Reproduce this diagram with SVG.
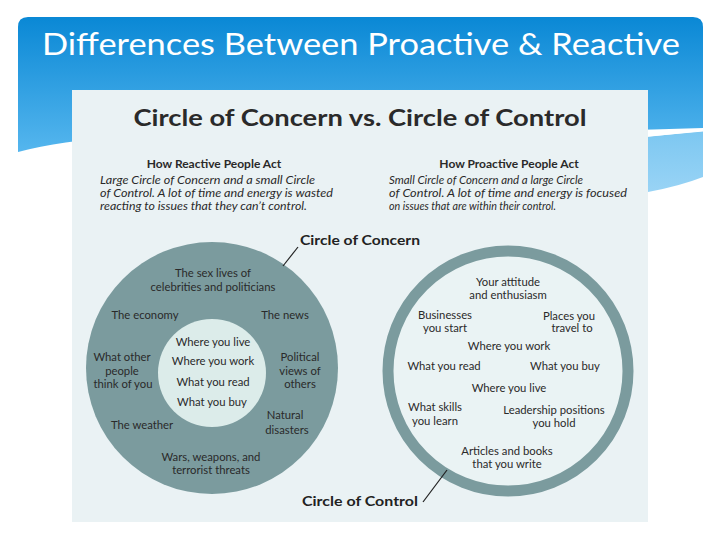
<svg xmlns="http://www.w3.org/2000/svg" width="720" height="540" viewBox="0 0 720 540">
<defs>
<linearGradient id="hdr" x1="0" y1="0" x2="0" y2="1">
<stop offset="0" stop-color="#0a88d5"/>
<stop offset="1" stop-color="#55b6ee"/>
</linearGradient>
<linearGradient id="band" x1="0" y1="0" x2="0" y2="1">
<stop offset="0" stop-color="#7cc7f1"/>
<stop offset="1" stop-color="#9fd6f6"/>
</linearGradient>
</defs>
<style>
.t{font-family:Lato,"Noto Sans","Liberation Sans",sans-serif;fill:#2a2a2a;font-size:11.3px;text-anchor:middle}
.h{font-family:Lato,"Noto Sans","Liberation Sans",sans-serif;fill:#2a2a2a;font-size:12px;font-weight:bold;text-anchor:middle}
.i{font-family:Lato,"Noto Sans","Liberation Sans",sans-serif;fill:#2a2a2a;font-size:11.5px;font-style:italic}
.lbl{font-family:Lato,"Noto Sans","Liberation Sans",sans-serif;fill:#222;font-size:14px;font-weight:bold}
.ring{fill:#7b9b9e}
.lead{stroke:#222;stroke-width:1.2;fill:none}
</style>
<rect width="720" height="540" fill="#ffffff"/>
<g id="header">
<path d="M18,152 C150,118 400,138 703,128 L703,27 Q703,17 693,17 L28,17 Q18,17 18,27 Z" fill="url(#hdr)"/>
<path d="M560,146 L703,131 L703,177 Q680,186 648,192 L560,205 Z" fill="url(#band)"/>
<path d="M560,144 L703,131" stroke="#ffffff" stroke-width="1.2" fill="none"/>
<text x="361" y="55" font-family="Lato,'Open Sans','Liberation Sans',sans-serif" font-size="30" fill="#ffffff" text-anchor="middle" textLength="638" lengthAdjust="spacingAndGlyphs">Differences Between Proactive &amp; Reactive</text>
</g>
<rect id="panel" x="72" y="90" width="576" height="432" fill="#eaf2f4"/>
<text x="360" y="126" font-family="Lato,'Noto Sans','Liberation Sans',sans-serif" font-size="23" font-weight="bold" fill="#2a2a2a" text-anchor="middle" textLength="453" lengthAdjust="spacingAndGlyphs">Circle of Concern vs. Circle of Control</text>
<g id="reactive-text">
<text class="h" x="214" y="168">How Reactive People Act</text>
<text class="i" x="100" y="184" textLength="215" lengthAdjust="spacingAndGlyphs">Large Circle of Concern and a small Circle</text>
<text class="i" x="100" y="197" textLength="233" lengthAdjust="spacingAndGlyphs">of Control. A lot of time and energy is wasted</text>
<text class="i" x="100" y="210" textLength="207" lengthAdjust="spacingAndGlyphs">reacting to issues that they can’t control.</text>
</g>
<g id="proactive-text">
<text class="h" x="509" y="168">How Proactive People Act</text>
<text class="i" x="389" y="184" textLength="194" lengthAdjust="spacingAndGlyphs">Small Circle of Concern and a large Circle</text>
<text class="i" x="389" y="197" textLength="238" lengthAdjust="spacingAndGlyphs">of Control. A lot of time and energy is focused</text>
<text class="i" x="389" y="210" textLength="167" lengthAdjust="spacingAndGlyphs">on issues that are within their control.</text>
</g>
<g id="reactive-circle">
<circle class="ring" cx="212" cy="368" r="126"/>
<circle cx="212" cy="373" r="54" fill="#dcecea"/>
<text class="t" x="213" y="277">The sex lives of</text>
<text class="t" x="213" y="291">celebrities and politicians</text>
<text class="t" x="145" y="319">The economy</text>
<text class="t" x="285" y="319">The news</text>
<text class="t" x="213" y="346">Where you live</text>
<text class="t" x="213" y="365">Where you work</text>
<text class="t" x="213" y="386">What you read</text>
<text class="t" x="212" y="406">What you buy</text>
<text class="t" x="122" y="361">What other</text>
<text class="t" x="122" y="375">people</text>
<text class="t" x="123" y="388">think of you</text>
<text class="t" x="300" y="361">Political</text>
<text class="t" x="300" y="375">views of</text>
<text class="t" x="300" y="388">others</text>
<text class="t" x="142" y="429">The weather</text>
<text class="t" x="285" y="419">Natural</text>
<text class="t" x="287" y="434">disasters</text>
<text class="t" x="211" y="461">Wars, weapons, and</text>
<text class="t" x="211" y="474">terrorist threats</text>
</g>
<g id="proactive-circle">
<circle cx="508" cy="371" r="120" fill="#eaf3f4" stroke="#7b9b9e" stroke-width="11"/>
<text class="t" x="508" y="286">Your attitude</text>
<text class="t" x="508" y="299">and enthusiasm</text>
<text class="t" x="445" y="319">Businesses</text>
<text class="t" x="445" y="332">you start</text>
<text class="t" x="569" y="320">Places you</text>
<text class="t" x="572" y="332">travel to</text>
<text class="t" x="509" y="350">Where you work</text>
<text class="t" x="444" y="370">What you read</text>
<text class="t" x="565" y="370">What you buy</text>
<text class="t" x="509" y="392">Where you live</text>
<text class="t" x="435" y="411">What skills</text>
<text class="t" x="435" y="425">you learn</text>
<text class="t" x="554" y="414">Leadership positions</text>
<text class="t" x="554" y="427">you hold</text>
<text class="t" x="507" y="455">Articles and books</text>
<text class="t" x="507" y="468">that you write</text>
</g>
<g id="connectors">
<path class="lead" d="M298,247 L283,266"/>
<path class="lead" d="M423,502 L447,470"/>
</g>
<g id="labels">
<text class="lbl" x="300" y="245" textLength="120" lengthAdjust="spacingAndGlyphs">Circle of Concern</text>
<text class="lbl" x="302" y="506" textLength="116" lengthAdjust="spacingAndGlyphs">Circle of Control</text>
</g>
</svg>
